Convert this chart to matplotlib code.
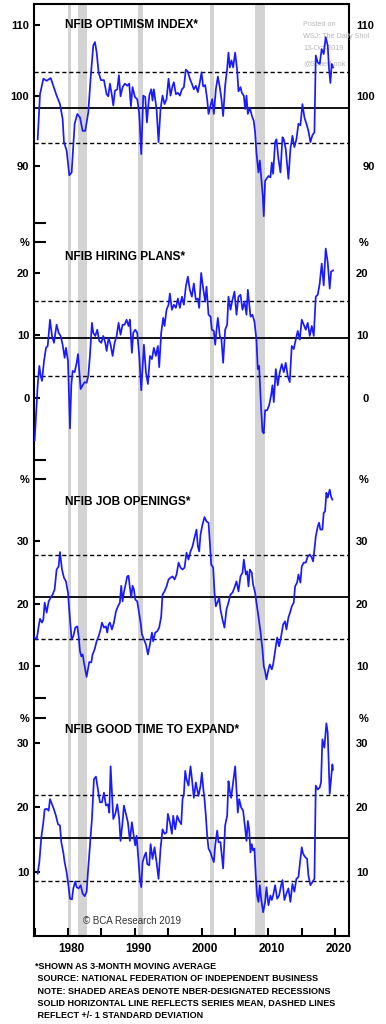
import numpy as np
import matplotlib
matplotlib.use('Agg')
import matplotlib.pyplot as plt

plt.rcParams['font.family'] = ['Liberation Sans', 'DejaVu Sans']
plt.rcParams['font.weight'] = 'bold'

# ---------------------------------------------------------------- data
titles = ['NFIB OPTIMISM INDEX*', 'NFIB HIRING PLANS*', 'NFIB JOB OPENINGS*', 'NFIB GOOD TIME TO EXPAND*']
ylims = [(82, 113), (-10, 25), (5, 40), (0, 34)]
yticks = [[90, 100, 110], [0, 10, 20], [10, 20, 30], [10, 20, 30]]
means = [98.3, 9.5, 21.1, 15.3]
sds = [5.0, 6.0, 6.7, 6.7]
recessions = [(1980.0, 1980.5), (1981.5, 1982.85), (1990.55, 1991.2), (2001.2, 2001.85), (2007.95, 2009.45)]
year_ticks = [1975, 1980, 1985, 1990, 1995, 2000, 2005, 2010, 2015, 2020]
year_labels = ['1980', '1990', '2000', '2010', '2020']

opt_x = [1975.45, 1975.80, 1976.30, 1976.80, 1977.40, 1977.79, 1978.29, 1978.79, 1979.19, 1979.39, 1979.79,
         1980.19, 1980.54, 1980.79, 1980.99, 1981.39, 1981.79, 1982.19, 1982.58, 1983.03, 1983.38, 1983.78,
         1984.03, 1984.28, 1984.58, 1984.93, 1985.38, 1985.78, 1986.03, 1986.28, 1986.58, 1986.78, 1987.03,
         1987.38, 1987.62, 1987.87, 1988.17, 1988.52, 1988.87, 1989.17, 1989.42, 1989.67, 1990.02, 1990.37,
         1990.67, 1990.97, 1991.27, 1991.57, 1991.82, 1992.17, 1992.47, 1992.66, 1992.86, 1993.26, 1993.56,
         1993.86, 1994.16, 1994.46, 1994.76, 1995.06, 1995.36, 1995.66, 1995.86, 1996.16, 1996.46, 1996.76,
         1997.06, 1997.36, 1997.65, 1997.95, 1998.25, 1998.55, 1998.85, 1999.15, 1999.45, 1999.75, 2000.00,
         2000.25, 2000.55, 2000.85, 2001.05, 2001.35, 2001.60, 2001.85, 2002.15, 2002.45, 2002.74, 2002.99,
         2003.24, 2003.54, 2003.84, 2004.04, 2004.24, 2004.49, 2004.74, 2005.04, 2005.34, 2005.54, 2005.84,
         2006.04, 2006.34, 2006.54, 2006.74, 2006.94, 2007.24, 2007.53, 2007.83, 2008.03, 2008.23, 2008.53,
         2008.73, 2008.93, 2009.18, 2009.33, 2009.53, 2009.73, 2010.03, 2010.33, 2010.53, 2010.73, 2011.03,
         2011.23, 2011.53, 2011.83, 2012.13, 2012.33, 2012.62, 2013.02, 2013.32, 2013.62, 2013.92, 2014.22,
         2014.52, 2014.82, 2015.12, 2015.42, 2015.72, 2016.02, 2016.32, 2016.62, 2016.92, 2017.12, 2017.42,
         2017.71, 2018.01, 2018.31, 2018.61, 2018.91, 2019.11, 2019.31, 2019.51, 2019.71]
opt_y = [93.8, 100.2, 102.4, 102.1, 102.5, 101.4, 100.0, 98.8, 96.7, 93.4, 92.2,
         88.7, 89.1, 92.9, 96.0, 97.4, 96.9, 95.0, 95.0, 97.6, 102.4, 107.1,
         107.6, 106.2, 103.3, 102.2, 102.2, 100.2, 99.9, 101.7, 100.0, 98.6, 100.7,
         100.9, 102.9, 99.9, 101.2, 101.7, 101.4, 101.7, 98.5, 101.2, 99.8, 99.5,
         97.4, 91.7, 100.0, 99.8, 96.2, 100.0, 100.9, 99.3, 100.9, 98.1, 93.4,
         98.1, 100.0, 98.8, 99.5, 102.4, 100.0, 101.4, 101.9, 100.2, 100.4, 100.0,
         100.9, 101.2, 103.7, 103.4, 102.4, 101.7, 100.9, 101.4, 100.5, 101.9, 103.3,
         101.3, 101.5, 99.5, 97.4, 98.6, 99.5, 97.4, 100.9, 102.7, 101.2, 99.5,
         97.1, 101.4, 103.8, 106.1, 104.0, 105.0, 104.0, 106.1, 103.6, 100.6, 101.2,
         100.4, 100.0, 98.1, 100.0, 97.4, 98.3, 97.2, 96.4, 94.8, 91.9, 89.1,
         90.8, 88.6, 85.8, 82.9, 87.9, 88.2, 88.6, 88.4, 90.5, 88.9, 93.4,
         93.8, 91.0, 89.1, 94.1, 93.8, 92.4, 88.2, 92.4, 94.3, 92.7, 93.8,
         96.0, 95.8, 98.8, 96.9, 96.0, 95.0, 93.4, 94.4, 94.8, 105.7, 104.7,
         104.5, 106.6, 105.9, 108.3, 107.1, 103.8, 101.8, 104.5, 104.0]

hire_x = [1975.00, 1975.20, 1975.45, 1975.70, 1975.90, 1976.10, 1976.40, 1976.70, 1976.95, 1977.30, 1977.60,
          1977.89, 1978.29, 1978.59, 1978.89, 1979.19, 1979.49, 1979.69, 1979.99, 1980.29, 1980.49, 1980.69,
          1980.99, 1981.29, 1981.49, 1981.69, 1981.89, 1982.19, 1982.49, 1982.79, 1983.03, 1983.28, 1983.58,
          1983.78, 1984.08, 1984.38, 1984.68, 1984.98, 1985.28, 1985.58, 1985.78, 1986.08, 1986.38, 1986.68,
          1986.98, 1987.28, 1987.57, 1987.87, 1988.17, 1988.47, 1988.77, 1989.07, 1989.27, 1989.57, 1989.77,
          1990.07, 1990.37, 1990.67, 1990.97, 1991.37, 1991.67, 1991.97, 1992.27, 1992.57, 1992.86, 1993.16,
          1993.46, 1993.66, 1993.96, 1994.26, 1994.46, 1994.76, 1995.06, 1995.26, 1995.56, 1995.86, 1996.16,
          1996.46, 1996.76, 1997.06, 1997.36, 1997.65, 1997.95, 1998.25, 1998.55, 1998.85, 1999.15, 1999.45,
          1999.65, 1999.95, 2000.25, 2000.55, 2000.75, 2001.05, 2001.35, 2001.55, 2001.85, 2002.05, 2002.25,
          2002.45, 2002.74, 2002.99, 2003.24, 2003.54, 2003.84, 2004.04, 2004.34, 2004.64, 2004.94, 2005.24,
          2005.54, 2005.84, 2006.14, 2006.44, 2006.74, 2006.94, 2007.14, 2007.34, 2007.63, 2007.93, 2008.23,
          2008.43, 2008.63, 2008.93, 2009.13, 2009.33, 2009.53, 2009.83, 2010.13, 2010.43, 2010.63, 2010.83,
          2011.13, 2011.43, 2011.73, 2012.03, 2012.33, 2012.62, 2012.92, 2013.22, 2013.52, 2013.82, 2014.12,
          2014.42, 2014.72, 2015.02, 2015.32, 2015.62, 2015.92, 2016.22, 2016.52, 2016.82, 2017.12, 2017.42,
          2017.71, 2018.01, 2018.31, 2018.61, 2018.91, 2019.21, 2019.41, 2019.71]
hire_y = [-6.8, -2.8, 2.0, 5.1, 3.5, 2.7, 5.9, 8.0, 8.3, 12.5, 9.9,
          8.8, 11.7, 10.4, 9.9, 8.5, 6.4, 8.0, 5.9, -4.9, 2.0, 4.3,
          4.1, 5.6, 7.0, 4.1, 1.4, 2.0, 2.5, 2.4, 3.5, 6.7, 12.0,
          10.4, 9.9, 10.9, 9.1, 8.8, 9.9, 8.8, 7.5, 9.6, 8.5, 6.7,
          8.8, 9.9, 12.0, 10.1, 11.7, 11.7, 12.5, 11.5, 12.5, 7.2, 10.4,
          10.9, 10.4, 6.7, 1.2, 8.5, 4.1, 2.2, 6.7, 6.2, 8.0, 6.7,
          8.3, 4.9, 10.4, 12.8, 11.5, 14.1, 14.9, 16.7, 14.1, 14.9, 14.4,
          15.9, 14.4, 16.2, 14.9, 17.8, 19.4, 17.3, 16.2, 18.3, 15.7, 15.9,
          14.4, 20.0, 17.5, 15.4, 17.8, 13.3, 13.0, 10.9, 10.7, 8.5, 10.9,
          12.8, 9.9, 9.3, 5.6, 10.9, 11.7, 16.2, 14.1, 15.7, 17.0, 13.3,
          16.2, 16.5, 14.1, 15.4, 13.3, 17.3, 15.1, 13.0, 13.3, 12.2, 9.3,
          4.6, 5.1, -1.7, -5.4, -5.7, -2.0, -2.0, -1.2, 0.4, 2.0, -0.7,
          4.6, 2.0, 4.1, 5.4, 4.1, 5.6, 3.5, 2.5, 8.3, 7.8, 9.3,
          10.7, 9.3, 12.5, 11.7, 10.9, 12.0, 9.9, 11.5, 9.9, 16.2, 16.5,
          18.3, 21.5, 18.0, 23.9, 21.7, 17.5, 20.2, 20.4]

jobs_x = [1975.00, 1975.30, 1975.60, 1975.80, 1976.10, 1976.30, 1976.50, 1976.80, 1977.10, 1977.40, 1977.69,
          1977.99, 1978.29, 1978.59, 1978.79, 1979.09, 1979.39, 1979.69, 1979.99, 1980.29, 1980.54, 1980.79,
          1981.09, 1981.39, 1981.59, 1981.79, 1981.99, 1982.19, 1982.39, 1982.58, 1982.78, 1982.98, 1983.18,
          1983.48, 1983.68, 1983.98, 1984.28, 1984.58, 1984.88, 1985.08, 1985.38, 1985.68, 1985.88, 1986.08,
          1986.28, 1986.58, 1986.88, 1987.18, 1987.48, 1987.77, 1987.97, 1988.17, 1988.37, 1988.67, 1988.87,
          1989.07, 1989.27, 1989.47, 1989.67, 1989.87, 1990.07, 1990.37, 1990.67, 1990.87, 1991.07, 1991.37,
          1991.67, 1991.97, 1992.27, 1992.57, 1992.76, 1993.06, 1993.36, 1993.66, 1993.96, 1994.16, 1994.46,
          1994.76, 1995.06, 1995.36, 1995.66, 1995.96, 1996.26, 1996.56, 1996.86, 1997.16, 1997.46, 1997.75,
          1998.05, 1998.35, 1998.65, 1998.95, 1999.25, 1999.45, 1999.65, 1999.85, 2000.15, 2000.45, 2000.75,
          2001.05, 2001.25, 2001.45, 2001.75, 2001.95, 2002.15, 2002.45, 2002.64, 2002.84, 2003.14, 2003.44,
          2003.74, 2004.04, 2004.34, 2004.64, 2004.94, 2005.24, 2005.54, 2005.84, 2006.14, 2006.34, 2006.64,
          2006.84, 2007.04, 2007.24, 2007.53, 2007.73, 2008.03, 2008.23, 2008.53, 2008.83, 2009.13, 2009.33,
          2009.53, 2009.73, 2010.03, 2010.23, 2010.53, 2010.73, 2011.03, 2011.33, 2011.63, 2011.93, 2012.23,
          2012.52, 2012.72, 2013.02, 2013.32, 2013.52, 2013.82, 2014.02, 2014.32, 2014.52, 2014.82, 2015.02,
          2015.32, 2015.62, 2015.92, 2016.22, 2016.52, 2016.72, 2016.92, 2017.12, 2017.42, 2017.61, 2017.81,
          2018.11, 2018.31, 2018.51, 2018.71, 2018.91, 2019.21, 2019.41, 2019.61]
jobs_y = [14.6, 14.3, 16.4, 17.6, 17.0, 17.5, 20.2, 18.6, 20.4, 21.0, 21.5,
          22.3, 25.5, 26.0, 28.3, 25.5, 24.2, 23.6, 21.8, 17.5, 14.3, 14.8,
          16.2, 16.4, 14.8, 12.4, 11.6, 11.9, 10.6, 9.5, 8.3, 9.5, 10.7,
          10.6, 11.9, 12.7, 14.0, 14.8, 15.9, 17.0, 16.2, 16.4, 15.4, 16.7,
          17.0, 15.9, 17.0, 18.8, 19.6, 20.2, 22.9, 20.4, 21.8, 23.4, 24.4,
          24.5, 22.6, 21.0, 22.9, 22.3, 20.7, 20.4, 18.3, 17.0, 15.1, 14.3,
          13.5, 11.9, 13.5, 15.4, 14.0, 15.4, 15.6, 16.2, 18.0, 21.5, 22.0,
          22.8, 23.9, 24.2, 24.4, 23.9, 24.7, 26.6, 25.8, 25.5, 25.8, 28.2,
          27.1, 28.4, 29.2, 30.6, 31.9, 29.2, 28.4, 31.1, 32.7, 33.9, 33.2,
          33.0, 29.8, 26.3, 25.8, 21.8, 19.6, 20.4, 21.0, 19.1, 17.5, 16.2,
          19.1, 20.2, 21.5, 21.8, 22.6, 23.6, 22.0, 24.4, 25.0, 27.1, 24.7,
          25.2, 22.8, 25.5, 25.0, 23.1, 21.8, 20.2, 18.0, 15.6, 12.7, 10.0,
          9.2, 7.9, 9.5, 10.3, 9.5, 10.3, 12.4, 14.6, 13.2, 14.8, 16.7,
          17.2, 15.9, 17.8, 18.8, 19.6, 20.2, 22.8, 23.4, 24.7, 23.4, 26.0,
          26.6, 26.6, 27.6, 27.9, 27.4, 26.8, 28.7, 30.8, 32.4, 33.0, 31.9,
          31.9, 34.6, 34.8, 37.8, 37.0, 38.3, 37.2, 36.7]

expand_x = [1975.45, 1975.70, 1976.00, 1976.30, 1976.50, 1976.80, 1977.10, 1977.30, 1977.60, 1977.89, 1978.19,
            1978.49, 1978.79, 1978.99, 1979.29, 1979.49, 1979.79, 1979.99, 1980.29, 1980.59, 1980.79, 1981.09,
            1981.29, 1981.59, 1981.89, 1982.19, 1982.49, 1982.79, 1982.98, 1983.28, 1983.58, 1983.88, 1984.18,
            1984.48, 1984.78, 1985.08, 1985.38, 1985.68, 1985.98, 1986.18, 1986.38, 1986.58, 1986.78, 1987.08,
            1987.38, 1987.67, 1987.87, 1988.17, 1988.37, 1988.67, 1988.97, 1989.27, 1989.57, 1989.87, 1990.07,
            1990.27, 1990.57, 1990.77, 1990.97, 1991.17, 1991.47, 1991.67, 1991.87, 1992.17, 1992.37, 1992.66,
            1992.96, 1993.26, 1993.56, 1993.86, 1994.16, 1994.46, 1994.76, 1994.96, 1995.26, 1995.56, 1995.76,
            1996.06, 1996.36, 1996.66, 1996.96, 1997.16, 1997.36, 1997.56, 1997.75, 1998.05, 1998.35, 1998.55,
            1998.85, 1999.15, 1999.35, 1999.55, 1999.85, 2000.05, 2000.25, 2000.45, 2000.65, 2000.85, 2001.05,
            2001.35, 2001.55, 2001.85, 2002.05, 2002.35, 2002.54, 2002.84, 2003.04, 2003.24, 2003.54, 2003.84,
            2004.04, 2004.24, 2004.44, 2004.74, 2005.04, 2005.24, 2005.44, 2005.64, 2005.94, 2006.24, 2006.54,
            2006.74, 2006.94, 2007.14, 2007.34, 2007.53, 2007.73, 2007.93, 2008.13, 2008.33, 2008.53, 2008.73,
            2008.93, 2009.23, 2009.53, 2009.73, 2010.03, 2010.33, 2010.53, 2010.73, 2011.03, 2011.33, 2011.63,
            2011.93, 2012.13, 2012.42, 2012.72, 2013.02, 2013.32, 2013.62, 2013.92, 2014.22, 2014.52, 2014.72,
            2015.02, 2015.22, 2015.52, 2015.82, 2016.02, 2016.32, 2016.62, 2016.92, 2017.12, 2017.42, 2017.71,
            2017.91, 2018.11, 2018.41, 2018.71, 2018.91, 2019.21, 2019.41, 2019.61, 2019.71]
expand_y = [9.7, 11.5, 15.4, 17.7, 19.7, 19.8, 19.5, 21.3, 20.5, 19.7, 18.7,
            17.4, 17.2, 14.6, 13.0, 11.5, 9.9, 8.4, 5.8, 5.7, 7.4, 8.5,
            7.6, 7.4, 7.9, 6.6, 6.2, 6.9, 9.9, 14.1, 18.2, 24.4, 24.8,
            22.8, 20.8, 20.8, 22.3, 20.3, 20.5, 19.2, 26.4, 22.3, 18.2, 19.0,
            20.5, 18.2, 14.8, 17.7, 20.3, 19.0, 17.7, 14.8, 17.7, 15.4, 14.1,
            15.6, 11.5, 8.9, 7.6, 11.5, 12.5, 13.0, 11.2, 11.0, 14.3, 12.0,
            13.8, 11.5, 8.9, 13.6, 16.6, 15.9, 16.1, 19.0, 17.7, 15.9, 18.7,
            16.6, 18.7, 17.9, 17.4, 21.3, 22.1, 25.7, 24.4, 23.4, 26.4, 24.6,
            21.5, 23.9, 22.8, 21.8, 23.4, 25.4, 23.1, 21.3, 18.7, 15.6, 13.6,
            13.0, 12.3, 11.5, 14.1, 16.4, 14.6, 14.6, 12.5, 10.5, 17.2, 18.7,
            24.1, 22.6, 21.5, 23.9, 26.4, 22.8, 19.2, 21.3, 20.0, 19.5, 16.6,
            14.8, 17.9, 16.6, 13.0, 14.3, 13.3, 13.6, 9.4, 6.3, 5.3, 7.9,
            5.8, 3.7, 5.3, 7.6, 4.8, 6.3, 5.6, 6.3, 7.9, 5.8, 6.3,
            7.9, 8.7, 5.6, 6.6, 7.4, 5.3, 8.1, 6.9, 8.9, 9.2, 11.0,
            13.8, 12.8, 12.3, 12.0, 9.4, 7.9, 8.4, 8.9, 23.4, 22.8, 23.1,
            23.9, 30.6, 29.3, 33.1, 31.6, 22.1, 24.4, 26.7, 25.9]

series_x = [opt_x, hire_x, jobs_x, expand_x]
series_y = [opt_y, hire_y, jobs_y, expand_y]

footnotes = ['*SHOWN AS 3-MONTH MOVING AVERAGE',
             ' SOURCE: NATIONAL FEDERATION OF INDEPENDENT BUSINESS',
             ' NOTE: SHADED AREAS DENOTE NBER-DESIGNATED RECESSIONS',
             ' SOLID HORIZONTAL LINE REFLECTS SERIES MEAN, DASHED LINES',
             ' REFLECT +/- 1 STANDARD DEVIATION']
watermark = ['Posted on', 'WSJ: The Daily Shot', '13-Oct-2019', '@SoberLook']

# ---------------------------------------------------------------- layout (pixels)
W, H = 386, 1024
X0, X1 = 34, 349
FRAME_TOP, FRAME_BOT = 4, 936
PANEL_H = 218.5
panel_tops = [4, 241.7, 479, 717.5]
title_offsets = [20.7, 15, 23.3, 12.7]
XLIM = (1974.9, 2022.1)
BLUE = '#1a1aff'
SPINE_LW = 1.5
TICK_FS = 8

fig = plt.figure(figsize=(W / 100, H / 100), dpi=100)

def frac_box(top, height):
    return [X0 / W, 1 - (top + height) / H, (X1 - X0) / W, height / H]

# background frame with the recession bars, spines and year axis
bg = fig.add_axes(frac_box(FRAME_TOP, FRAME_BOT - FRAME_TOP))
bg.set_xlim(XLIM)
bg.set_ylim(0, 1)
for a, b in recessions:
    bg.axvspan(a, b, color='#d3d3d3', lw=0, zorder=0)
for s in bg.spines.values():
    s.set_linewidth(SPINE_LW)
bg.set_yticks([])
bg.set_xticks(year_ticks)
bg.set_xticks([int(y) + 0.55 for y in year_labels], minor=True, labels=year_labels)
bg.tick_params(axis='x', which='major', direction='in', length=6, width=SPINE_LW, labelbottom=False)
bg.tick_params(axis='x', which='minor', length=0, pad=5, labelsize=8.5)

for i in range(4):
    top = panel_tops[i]
    lo, hi = ylims[i]
    ax = fig.add_axes(frac_box(top, PANEL_H))
    ax.set_facecolor('none')
    for s in ax.spines.values():
        s.set_visible(False)
    ax.set_xlim(XLIM)
    ax.set_ylim(lo, hi)
    ax.set_xticks([])

    ax.axhline(means[i], color='black', lw=1.3, zorder=2)
    for sgn in (-1, 1):
        ax.axhline(means[i] + sgn * sds[i], color='black', lw=1.0, ls=(0, (3.0, 2.0)), zorder=2)
    ax.plot(series_x[i], series_y[i], color=BLUE, lw=1.25, zorder=3)

    ax.text((65 - X0) / (X1 - X0), 1 - title_offsets[i] / PANEL_H, titles[i],
            transform=ax.transAxes, ha='left', va='center', fontsize=8.6, zorder=4)

    # bracket ticks at the panel limits, '%' at the top one
    if i == 0:
        mt, ml = [lo], ['']
    elif i == 3:
        mt, ml = [hi], ['%']
    else:
        mt, ml = [lo, hi], ['', '%']

    ax.set_yticks(yticks[i], labels=[str(t) for t in yticks[i]])
    ax.set_yticks(mt, minor=True, labels=ml)
    ax.tick_params(axis='y', which='major', direction='in', length=4.3, width=SPINE_LW,
                   left=True, right=True, labelleft=True, labelright=False, pad=3.4, labelsize=TICK_FS)
    ax.tick_params(axis='y', which='minor', direction='in', length=8.4, width=SPINE_LW,
                   left=True, right=True, labelleft=True, labelright=False, pad=3.4, labelsize=TICK_FS)

    # right-hand labels are right aligned as a block
    ndig = max(len(str(t)) for t in yticks[i])
    ax2 = ax.twinx()
    ax2.set_facecolor('none')
    for s in ax2.spines.values():
        s.set_visible(False)
    ax2.set_ylim(lo, hi)
    ax2.set_yticks(yticks[i], labels=[str(t) for t in yticks[i]])
    ax2.set_yticks(mt, minor=True, labels=ml)
    ax2.tick_params(axis='y', which='both', length=0, right=False, left=False,
                    labelright=True, labelleft=False, pad=(7 + 6.2 * ndig) * 0.72, labelsize=TICK_FS)
    for t in ax2.yaxis.get_major_ticks() + ax2.yaxis.get_minor_ticks():
        t.label2.set_horizontalalignment('right')

    if i == 0:
        for k, line in enumerate(watermark):
            ax.text((303 - X0) / (X1 - X0), 1 - (21 + 11.8 * k + (3 if k == 3 else 0)) / PANEL_H, line,
                    transform=ax.transAxes, ha='left', va='center', fontsize=5.2,
                    fontweight='normal', color='#b8b8b8', zorder=1)
    if i == 3:
        ax.text((83 - X0) / (X1 - X0), 1 - (921.3 - top) / PANEL_H, '\u00a9 BCA Research 2019',
                transform=ax.transAxes, ha='left', va='center', fontsize=7,
                fontweight='normal', color='#333333', zorder=4)

for k, line in enumerate(footnotes):
    fig.text(35 / W, 1 - (966.7 + 12.2 * k) / H, line, ha='left', va='center', fontsize=6.45)

fig.savefig('out.png', dpi=100)
